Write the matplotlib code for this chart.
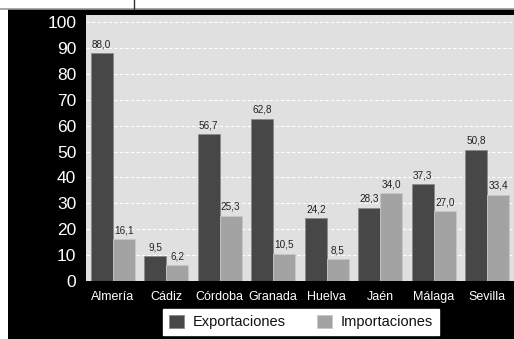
import numpy as np
import matplotlib.pyplot as plt
from matplotlib.lines import Line2D
from matplotlib.patches import Rectangle

provincias = ['Almería', 'Cádiz', 'Córdoba', 'Granada', 'Huelva', 'Jaén', 'Málaga', 'Sevilla']
exportaciones = [88.0, 9.5, 56.7, 62.8, 24.2, 28.3, 37.3, 50.8]
importaciones = [16.1, 6.2, 25.3, 10.5, 8.5, 34.0, 27.0, 33.4]
y_ticks = [0, 10, 20, 30, 40, 50, 60, 70, 80, 90, 100]

plt.rcParams['font.family'] = ['Liberation Sans', 'DejaVu Sans']

fig = plt.figure(figsize=(5.14, 3.39), dpi=100)
fig.patch.set_facecolor('white')

# black panel behind the chart, with a thin rule on top
fig.add_artist(Rectangle((8 / 514, 0), 1, 1 - 9 / 339, transform=fig.transFigure,
                         facecolor='black', edgecolor='none', zorder=0))
fig.add_artist(Line2D([0, 1], [1 - 8.5 / 339] * 2, transform=fig.transFigure,
                      color='#999999', lw=1.2))
fig.add_artist(Line2D([134 / 514] * 2, [1 - 8.5 / 339, 1], transform=fig.transFigure,
                      color='#333333', lw=1))

ax = fig.add_axes([86 / 514, 1 - 281 / 339, 428 / 514, 266 / 339])
ax.set_facecolor('#e0e0e0')

x = np.arange(len(provincias))
w = 0.41
b1 = ax.bar(x - w / 2, exportaciones, w, color='#474747', edgecolor='#8a8a8a',
            linewidth=0.6, label='Exportaciones', zorder=3)
b2 = ax.bar(x + w / 2, importaciones, w, color='#a3a3a3', edgecolor='#c8c8c8',
            linewidth=0.6, label='Importaciones', zorder=3)

for bars, vals in ((b1, exportaciones), (b2, importaciones)):
    for bar, v in zip(bars, vals):
        ax.text(bar.get_x() + bar.get_width() / 2, v + 1.5, f'{v:.1f}'.replace('.', ','),
                ha='center', va='bottom', fontsize=7.2, color='#222222')

ax.set_xlim(-0.5, len(provincias) - 0.5)
ax.set_ylim(0, 102.8)
ax.set_yticks(y_ticks)
ax.set_xticks(x)
ax.set_xticklabels(provincias, fontsize=9, color='white')
ax.tick_params(axis='y', colors='white', labelsize=12.5, length=0, pad=7)
ax.tick_params(axis='x', length=0, pad=7)
ax.grid(axis='y', color='white', linestyle=(0, (3, 2)), linewidth=0.8, zorder=1)
for s in ax.spines.values():
    s.set_visible(False)

leg = fig.legend(handles=[b1, b2], loc='center', bbox_to_anchor=(301 / 514, 1 - 322 / 339),
                 ncol=2, frameon=True, fancybox=False, fontsize=10.5, handlelength=1,
                 handleheight=1, columnspacing=2.2, borderpad=0.4, handletextpad=0.6,
                 borderaxespad=0)
leg.get_frame().set_facecolor('white')
leg.get_frame().set_edgecolor('white')
leg.get_frame().set_alpha(1)
for t in leg.get_texts():
    t.set_color('#111111')

fig.savefig('out.png', dpi=100, facecolor=fig.get_facecolor())
